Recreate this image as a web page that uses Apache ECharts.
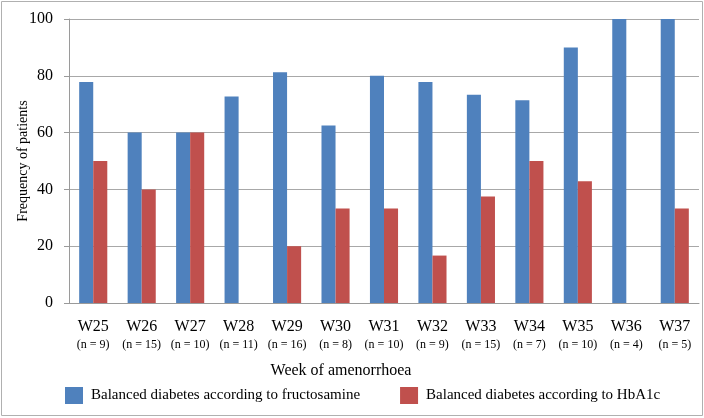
<!DOCTYPE html>
<html>
<head>
<meta charset="utf-8">
<script src="https://cdn.jsdelivr.net/npm/echarts@6/dist/echarts.min.js"></script>
<style>
  html, body { margin: 0; padding: 0; background: #fff; }
  #chart { width: 704px; height: 418px; }
</style>
</head>
<body>
<div id="chart"></div>
<script>
// weeks of amenorrhoea and number of patients per week
const weeks = ['W25', 'W26', 'W27', 'W28', 'W29', 'W30', 'W31', 'W32', 'W33', 'W34', 'W35', 'W36', 'W37']
const counts = [9, 15, 10, 11, 16, 8, 10, 9, 15, 7, 10, 4, 5]

// % of patients with balanced diabetes
const fructosamine = [77.8, 60, 60, 72.7, 81.25, 62.5, 80, 77.8, 73.3, 71.4, 90, 100, 100]
const hba1c = [50, 40, 60, 0, 20, 33.3, 33.3, 16.7, 37.5, 50, 42.9, 0, 33.3]

const yTicks = [0, 20, 40, 60, 80, 100]

const font = '"Liberation Serif", "Times New Roman", serif'

const chart = echarts.init(document.getElementById('chart'))

const option = {
  animation: false,
  textStyle: { fontFamily: font, color: '#000' },
  graphic: [
    {
      type: 'rect',
      shape: { x: 1.5, y: 1.5, width: 701, height: 414 },
      style: { fill: 'none', stroke: '#b0b0b0', lineWidth: 1 },
      silent: true
    }
  ],
  legend: {
    left: 60,
    top: 382,
    itemWidth: 18,
    itemHeight: 17,
    itemGap: 40,
    icon: 'rect',
    textStyle: { fontFamily: font, fontSize: 15, color: '#000', padding: [0, 0, 0, 3] },
    data: ['Balanced diabetes according to fructosamine', 'Balanced diabetes according to HbA1c']
  },
  grid: {
    left: 69,
    right: 5,
    top: 19,
    bottom: 115,
    outerBoundsMode: 'none'
  },
  xAxis: {
    type: 'category',
    data: weeks,
    name: 'Week of amenorrhoea',
    nameLocation: 'middle',
    nameGap: 60,
    nameMoveOverlap: false,
    nameTextStyle: { fontFamily: font, fontSize: 16, color: '#000', padding: [0, 86, 0, 0] },
    axisLine: { lineStyle: { color: '#9a9a9a' } },
    axisTick: { length: 6, lineStyle: { color: '#9a9a9a' } },
    axisLabel: {
      interval: 0,
      margin: 14,
      formatter: function (v, i) {
        return '{a|' + v + '}\n{b|(n = ' + counts[i] + ')}'
      },
      rich: {
        a: { fontFamily: font, fontSize: 16, lineHeight: 19, color: '#000' },
        b: { fontFamily: font, fontSize: 12, lineHeight: 17, color: '#000' }
      }
    }
  },
  yAxis: {
    type: 'value',
    min: yTicks[0],
    max: yTicks[yTicks.length - 1],
    interval: 20,
    name: 'Frequency of patients',
    nameLocation: 'middle',
    nameGap: 39,
    nameMoveOverlap: false,
    nameTextStyle: { fontFamily: font, fontSize: 14, color: '#000' },
    axisLine: { show: true, lineStyle: { color: '#9a9a9a' } },
    axisTick: { show: true, length: 5, lineStyle: { color: '#9a9a9a' } },
    axisLabel: { fontFamily: font, fontSize: 16, color: '#000', margin: 16 },
    splitLine: { lineStyle: { color: '#a8a8a8' } }
  },
  series: [
    {
      name: 'Balanced diabetes according to fructosamine',
      type: 'bar',
      data: fructosamine,
      barGap: '0%',
      barCategoryGap: '42%',
      itemStyle: { color: '#4F81BD' }
    },
    {
      name: 'Balanced diabetes according to HbA1c',
      type: 'bar',
      data: hba1c,
      itemStyle: { color: '#C0504D' }
    }
  ]
}

chart.setOption(option)
</script>
</body>
</html>
